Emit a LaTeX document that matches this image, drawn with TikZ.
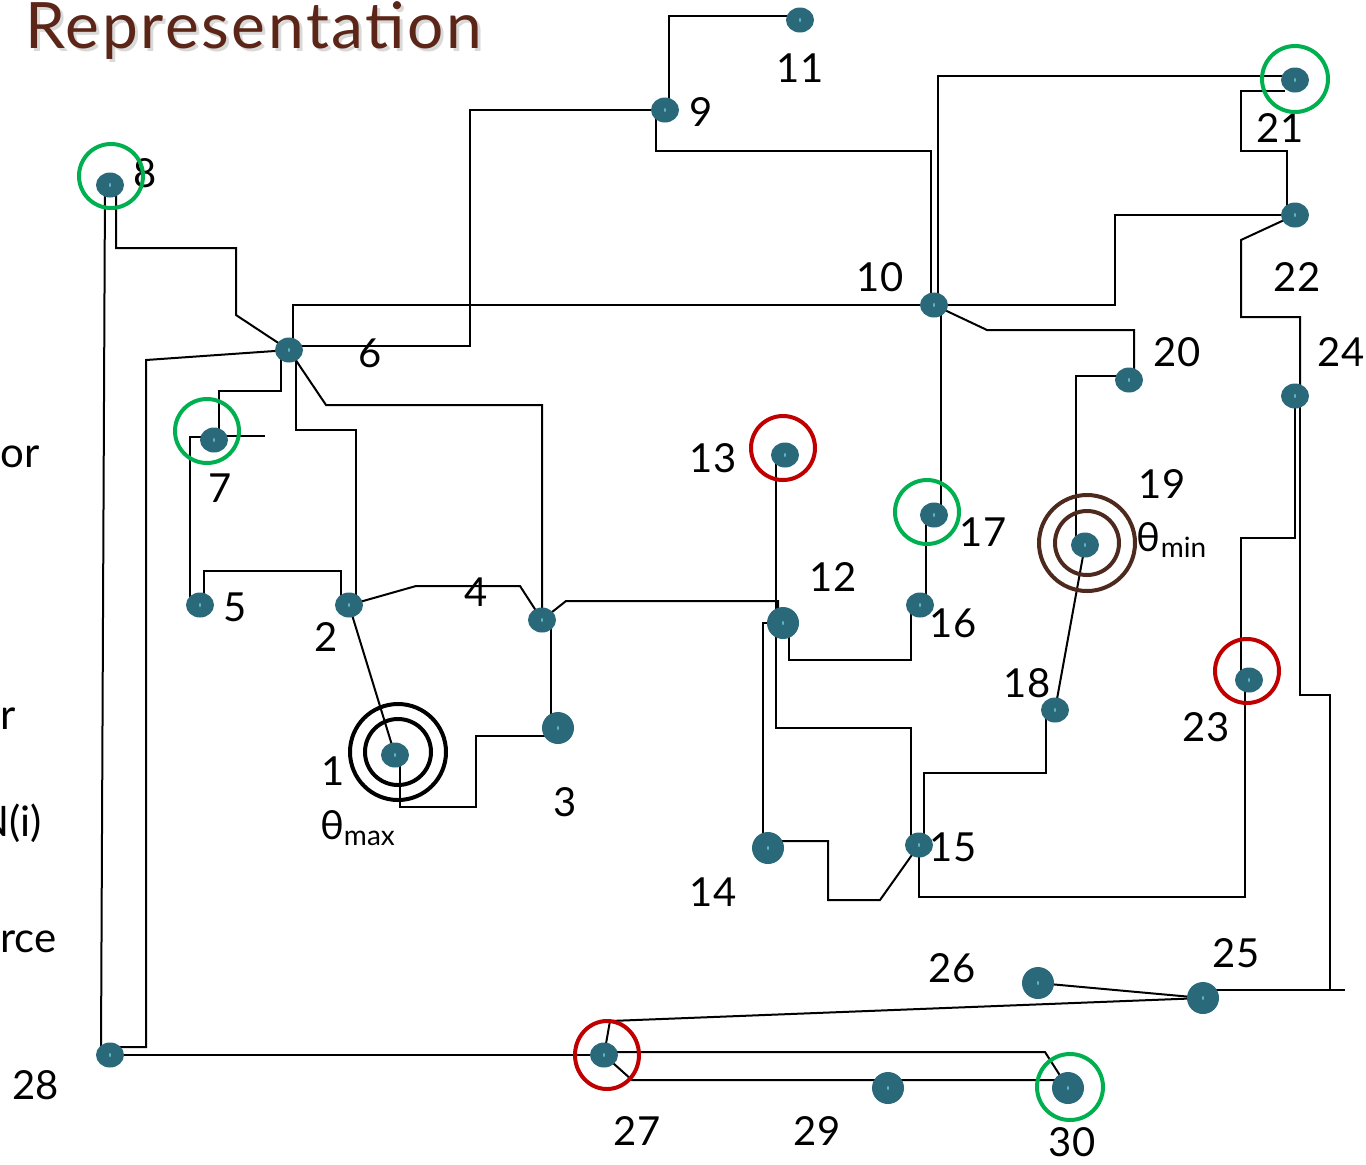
\documentclass[tikz,border=0pt]{standalone}
\usepackage{fontspec}
\setmainfont{Lato}
\usetikzlibrary{shapes.geometric,calc,backgrounds}
\definecolor{dotc}{HTML}{29697A}
\definecolor{speck}{HTML}{5FB4C6}
\definecolor{rgreen}{HTML}{00B050}
\definecolor{rred}{HTML}{C00000}
\definecolor{rbrown}{HTML}{4E2A1E}
\definecolor{ttlc}{HTML}{5B2617}
\tikzset{
  dot/.style={ellipse, fill=dotc, inner sep=0pt, minimum width=14pt, minimum height=12.5pt,
    path picture={\fill[speck] (path picture bounding box.center) ellipse (0.5pt and 1pt);}},
  bigdot/.style={dot, minimum width=16pt, minimum height=16pt},
  wire/.style={line width=1pt, black},
  num/.style={font=\fontsize{20}{24}\selectfont, inner sep=0pt},
  ring/.style={line width=2pt},
  side/.style={font=\fontsize{21}{25}\selectfont, inner sep=0pt, anchor=base west},
  ttl/.style={font=\fontsize{32}{38}\selectfont\addfontfeature{LetterSpace=4}, inner sep=0pt, anchor=base west},
}

\begin{document}
\begin{tikzpicture}[x=0.5pt,y=-0.5pt]
  \useasboundingbox (0,0) rectangle (1366,1164);
  \clip (0,0) rectangle (1366,1164);

  % title and cut-off side text
  \node[ttl, text=black!15] (ttlsh) at (28,51) {Representation};
  \node[ttl, text=ttlc] (ttl) at (25,48) {Representation};
  \node[side] (s1) at (0,467) {or};
  \node[side] (s2) at (0,729) {r};
  \node[side, anchor=base east] (s3) at (42,836) {N(i)};
  \node[side] (s4) at (0,952) {rce};

  % dots
  \foreach \n/\x/\y in {1/395/755, 2/349/605, 4/542/620, 5/200/605, 6/289/350,
      7/214/440, 8/110/185, 9/665/110, 10/934/305, 11/800/20, 13/785/455,
      15/919/845, 16/920/605, 17/934/515, 18/1055/710, 19/1085/545, 20/1129/380,
      21/1295/80, 22/1295/215, 23/1249/680, 24/1295/396, 27/604/1055, 28/110/1055}
    \node[dot] (n\n) at (\x,\y) {};
  \foreach \n/\x/\y in {3/558/728, 12/783/623, 14/768/848, 25/1203/998,
      26/1038/983, 29/888/1088, 30/1068/1088}
    \node[bigdot] (n\n) at (\x,\y) {};

  % numbers
  \foreach \n/\x/\y in {1/333/771, 2/326/637, 3/565/802, 4/476/592, 5/235/607,
      6/370/353, 7/220/488, 8/145/173, 9/701/112, 10/880/277, 11/800/68,
      12/833/577, 13/713/458, 14/713/892, 15/953/847, 16/953/623, 17/983/532,
      18/1027/683, 19/1162/484, 20/1177/352, 21/1280/128, 22/1297/277,
      23/1206/727, 24/1341/352, 25/1236/953, 26/952/968, 27/637/1131,
      28/36/1085, 29/817/1131, 30/1072/1142}
    \node[num] (l\n) at (\x,\y) {\n};
  \node[num] (tmax) at (358,828) {θ\textsubscript{max}};
  \node[num] (tmin) at (1172,540) {θ\textsubscript{min}};

  \coordinate (s7) at (265,436);
  \coordinate (s25) at (1345,990);

  \begin{scope}[on background layer]
    \draw[wire] ($(n8)+(-5,0)$) -- ($(n28)+(-9,-5)$);
    \draw[wire] ($(n8)+(6,0)$) |- (236,248) -- (236,315) -- (n6.center);
    \draw[wire] (n6.center) -- (146,360) |- ($(n28)+(0,-8)$);
    \draw[wire] ($(n6)+(4,0)$) |- (n10.center);
    \draw[wire] ($(n6)+(0,-4)$) -| (470,110) -- (n9.center);
    \draw[wire] (n6.center) -- (326,405) -| (n4.center);
    \draw[wire] ($(n6)+(7,0)$) |- (356,430) -- ($(n2)+(7,0)$);
    \draw[wire] ($(n6)+(-8,0)$) |- (219,391) -- ($(n7)+(5,0)$);
    \draw[wire] ($(n7)+(0,-3)$) -| ($(n5)+(-10,0)$);
    \draw[wire] ($(n7)+(0,-4)$) -- (s7);
    \draw[wire] ($(n5)+(4,0)$) |- (341,571) -- ($(n2)+(-8,0)$);
    \draw[wire] (n2.center) -- (416,586) -- (520,586) -- (n4.center);
    \draw[wire] (n2.center) -- (n1.center);
    \draw[wire] ($(n1)+(5,0)$) |- (476,807) |- ($(n3)+(0,8)$);
    \draw[wire] ($(n4)+(9,0)$) -- ($(n3)+(-7,0)$);
    \draw[wire] (n4.center) -- (566,601) -| ($(n12)+(-5,0)$);
    \draw[wire] ($(n13)+(-9,0)$) -- ($(n12)+(-7,0)$);
    \draw[wire] ($(n14)+(-5,0)$) |- (n12.center);
    \draw[wire] ($(n12)+(6,0)$) |- (911,660) -- ($(n16)+(-9,0)$);
    \draw[wire] ($(n12)+(-7,0)$) |- (911,728) -- ($(n15)+(-8,0)$);
    \draw[wire] ($(n14)+(0,-7)$) -| (828,900) -- (880,900) -- (n15.center);
    \draw[wire] (n15.center) |- (1245,897) -- ($(n23)+(-4,0)$);
    \draw[wire] ($(n15)+(5,0)$) |- (1046,773) -- ($(n18)+(-9,0)$);
    \draw[wire] (n18.center) -- (n19.center);
    \draw[wire] ($(n19)+(-9,0)$) |- ($(n20)+(0,-4)$);
    \draw[wire] (n10.center) -- (987,330) -| ($(n20)+(5,0)$);
    \draw[wire] (n10.center) -| (1115,215) -- (n22.center);
    \draw[wire] ($(n10)+(4,0)$) |- ($(n21)+(0,-4)$);
    \draw[wire] ($(n21)+(-10,11)$) -| (1241,151) -| ($(n22)+(-8,0)$);
    \draw[wire] (n22.center) -- (1241,240) |- (1300,317) -- ($(n24)+(5,0)$);
    \draw[wire] (n24.center) |- (1241,538) -- ($(n23)+(-8,0)$);
    \draw[wire] ($(n24)+(5,0)$) |- (1330,695) -- (1330,990);
    \draw[wire] ($(n25)+(0,-8)$) -- (s25);
    \draw[wire] (n25.center) -- (n26.center);
    \draw[wire] (n25.center) -- (610,1021) -- (n27.center);
    \draw[wire] ($(n27)+(0,-3)$) -- (1045,1052) -- (n30.center);
    \draw[wire] (n27.center) -- (632,1080) -- ($(n30)+(0,-8)$);
    \draw[wire] (n28.center) -- (n27.center);
    \draw[wire] ($(n9)+(4,0)$) |- ($(n11)+(0,-4)$);
    \draw[wire] ($(n9)+(-9,0)$) |- (931,151) -- ($(n10)+(-3,0)$);
    \draw[wire] ($(n10)+(7,0)$) -- ($(n17)+(7,0)$);
    \draw[wire] ($(n17)+(-8,0)$) -- ($(n16)+(6,0)$);
  \end{scope}

  % rings
  \draw[ring, draw=rgreen] ($(n8)+(1,-9)$) circle (32);
  \draw[ring, draw=rgreen] ($(n7)+(-7,-9)$) circle (32);
  \draw[ring, draw=rred] ($(n13)+(-2,-7)$) circle (32);
  \draw[ring, draw=rgreen] ($(n17)+(-7,-3)$) circle (32);
  \draw[ring, draw=rgreen] ($(n21)+(0,-1)$) circle (33);
  \draw[ring, draw=rred] ($(n23)+(-2,-9)$) circle (32);
  \draw[ring, draw=rred] ($(n27)+(3,0)$) circle (32 and 34);
  \draw[ring, draw=rgreen] ($(n30)+(2,-1)$) circle (33);
  \draw[ring, draw=black] ($(n1)+(3,-3)$) circle (48) circle (33);
  \draw[ring, draw=rbrown] ($(n19)+(2,-2)$) circle (48) circle (32);
\end{tikzpicture}
\end{document}
